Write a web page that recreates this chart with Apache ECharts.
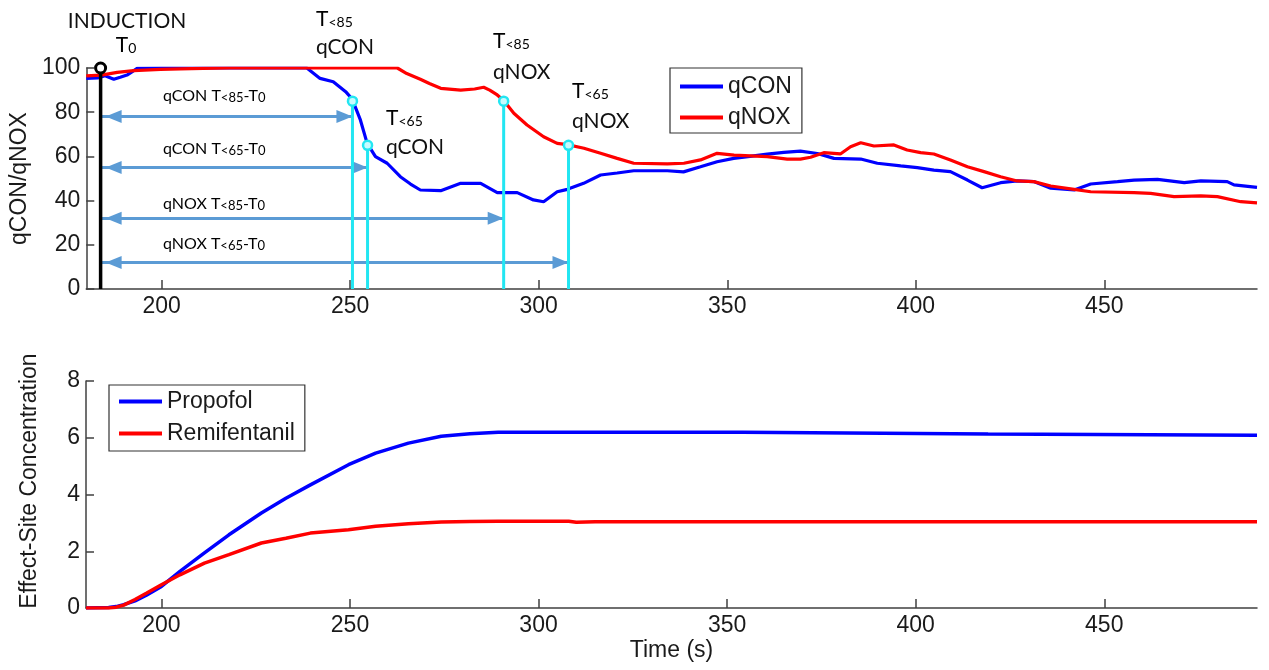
<!DOCTYPE html>
<html>
<head>
<meta charset="utf-8">
<script src="https://cdn.jsdelivr.net/npm/echarts@6/dist/echarts.min.js"></script>
<style>
html,body{margin:0;padding:0;background:#fff;}
#main{width:1269px;height:670px;}
</style>
</head>
<body>
<div id="main"></div>
<script>
// top panel: qCON / qNOX index
var qconTime = [180,183,185,187.3,189,190.8,193.5,200,210,220,230,238.5,242,245.5,248.8,250.5,252.7,254.5,256.7,259.8,
	263.3,266,268.6,274,279.3,284.6,289,294.3,298.6,301.3,304.9,307.6,311.9,316.4,320.8,325.2,334.1,338.4,342.9,347.3,
	351.7,356,360.6,365,369.4,373.9,378.3,385.4,389.8,396,400.4,404.8,409.2,413.7,417.6,422.5,426.9,431.3,435.8,442,
	446.4,453.5,457.9,464.1,471.2,475.6,482.6,484.4,490.5];
var qconValue = [95.3,95.5,96.5,94.9,95.8,96.8,99.8,100,100,100,100,100,95.3,93.8,89.3,86,76.5,65.9,59.9,56.9,
	50.8,47.5,44.8,44.5,47.8,47.8,43.6,43.6,40.3,39.5,44,45.1,47.8,51.6,52.5,53.5,53.5,53,55.3,57.6,
	59.1,60,61,61.8,62.4,61.3,59.1,58.8,56.9,55.7,54.9,53.8,53.1,49.3,45.8,48.1,48.9,48.6,45.6,44.8,
	47.5,48.6,49.3,49.6,48.1,48.9,48.6,47.1,46];
var qnoxTime = [180,184,188.2,192.6,199.7,205,211,218,262.5,265,268.6,271,274,279.3,283,285.4,
	287,289,290.7,293.4,296.9,301.3,304.9,307.6,312,316.4,320.8,325.2,334.1,338.5,342.9,347.3,
	351.8,360.6,365.9,369.4,372.1,375.6,380,382.7,385.4,388.9,394.2,397.7,401.3,404.8,409.2,413.7,
	418.1,422.5,426.9,431.3,435.8,442,446.4,457.9,462.3,468.5,475.6,480,486.2,490.5];
var qnoxValue = [96.4,96.8,98,98.8,99.4,99.6,99.8,100,100,97.5,94.9,93,90.8,90,90.5,91.3,
	90,87.8,85.3,79.5,74.2,68.9,65.9,65.3,63.7,61.4,59.1,56.9,56.6,56.9,58.4,61.4,
	60.6,59.9,58.8,58.8,59.6,61.7,61.1,64.4,66.2,64.7,65.2,62.9,61.7,61.1,58.4,55.3,
	53.1,50.8,48.9,48.6,46.6,45.1,44,43.6,43.3,41.8,42.1,41.8,39.5,39];

// bottom panel: effect-site concentration
var propofolTime = [180,186,188,190,193,196,200,205,211.4,217.9,226.5,233,239.5,249.6,256.8,265.5,274.2,281.8,289.3,354,354.1,419.2,419.3,490.5];
var propofolValue = [0,0.02,0.05,0.12,0.25,0.45,0.76,1.3,1.94,2.58,3.35,3.87,4.34,5.05,5.46,5.81,6.05,6.14,6.19,6.19,6.13,6.13,6.09,6.09];
var remiTime = [180,186,188,190,193,196,200,204.9,211.4,217.9,226.5,233,239.5,249.6,256.8,265.5,274.2,281.8,289.3,308,310,315,490.5];
var remiValue = [0,0,0.03,0.1,0.3,0.52,0.82,1.17,1.58,1.88,2.29,2.46,2.64,2.76,2.88,2.97,3.03,3.05,3.06,3.06,3.02,3.04,3.04];

// events
var inductionTime = 183.8;
var crossTime = [250.6,254.6,290.7,307.9];
var crossLevel = [85,65,85,65];
var arrowLevel = [78,55,32,12];

var timeTicks = [200,250,300,350,400,450];

var arial = 'Liberation Sans, Arial, sans-serif';
var calibri = 'Lato, Open Sans, sans-serif';
var axisColor = '#404040';
var cyan = '#22E6F2';

function zip(a,b){
	var out=[];
	for(var i=0;i<a.length;i++){ out.push([a[i],b[i]]); }
	return out;
}

var myChart = echarts.init(document.getElementById('main'), null, {renderer:'canvas'});

function xAxisFor(idx, withName){
	var ax = {
		type:'value', gridIndex:idx, min:180, max:490.5,
		axisLine:{show:true, onZero:false, lineStyle:{color:axisColor, width:1.5}},
		axisTick:{show:true, inside:true, length:9, customValues:timeTicks, lineStyle:{color:axisColor, width:1.5}},
		axisLabel:{customValues:timeTicks, margin:6, fontSize:23, fontFamily:arial, color:'#1a1a1a'},
		splitLine:{show:false}
	};
	if(withName){
		ax.name='Time (s)';
		ax.nameLocation='middle';
		ax.nameGap=31;
		ax.nameTextStyle={fontSize:23, fontFamily:arial, color:'#1a1a1a'};
	}
	return ax;
}

function yAxisFor(idx, max, step, name, gap, pad){
	return {
		type:'value', gridIndex:idx, min:0, max:max, interval:step,
		name:name, nameLocation:'middle', nameGap:gap,
		nameTextStyle:{fontSize:23, fontFamily:arial, color:'#1a1a1a', padding:pad},
		axisLine:{show:true, lineStyle:{color:axisColor, width:1.5}},
		axisTick:{show:true, inside:true, length:8, lineStyle:{color:axisColor, width:1.5}},
		axisLabel:{margin:6, fontSize:23, fontFamily:arial, color:'#1a1a1a'},
		splitLine:{show:false}
	};
}

var series = [];
series.push({name:'qCON', type:'line', xAxisIndex:0, yAxisIndex:0, data:zip(qconTime,qconValue),
	symbol:'none', lineStyle:{color:'#0000FF', width:3.2}, itemStyle:{color:'#0000FF'}, z:3});
series.push({name:'qNOX', type:'line', xAxisIndex:0, yAxisIndex:0, data:zip(qnoxTime,qnoxValue),
	symbol:'none', lineStyle:{color:'#FF0000', width:3.2}, itemStyle:{color:'#FF0000'}, z:3});

// arrows from induction to each threshold crossing
var arrowData = [];
for(var i=0;i<crossTime.length;i++){
	arrowData.push([
		{coord:[inductionTime, arrowLevel[i]], symbol:'triangle', symbolSize:[13,16], symbolOffset:[0,13]},
		{coord:[crossTime[i], arrowLevel[i]], symbol:'triangle', symbolSize:[13,16], symbolOffset:[0,8]}
	]);
}

// induction marker
series.push({name:'T0', type:'line', xAxisIndex:0, yAxisIndex:0,
	data:[{value:[inductionTime,0], symbol:'none'},{value:[inductionTime,100], symbol:'circle', symbolSize:10}],
	lineStyle:{color:'#000', width:3.5}, itemStyle:{color:'#fff', borderColor:'#000', borderWidth:3}, z:6,
	markLine:{
		silent:true, animation:false,
		label:{show:false},
		lineStyle:{color:'#5B9BD5', width:3, type:'solid'},
		itemStyle:{color:'#5B9BD5'},
		data:arrowData
	}
});

// threshold crossings
for(var j=0;j<crossTime.length;j++){
	series.push({name:'cross'+j, type:'line', xAxisIndex:0, yAxisIndex:0,
		data:[{value:[crossTime[j],0], symbol:'none'},{value:[crossTime[j],crossLevel[j]], symbol:'circle', symbolSize:9}],
		lineStyle:{color:cyan, width:3}, itemStyle:{color:'#c8fbff', borderColor:cyan, borderWidth:2.5}, z:5});
}

series.push({name:'Propofol', type:'line', xAxisIndex:1, yAxisIndex:1, data:zip(propofolTime,propofolValue),
	symbol:'none', lineStyle:{color:'#0000FF', width:3.5}, itemStyle:{color:'#0000FF'}});
series.push({name:'Remifentanil', type:'line', xAxisIndex:1, yAxisIndex:1, data:zip(remiTime,remiValue),
	symbol:'none', lineStyle:{color:'#FF0000', width:3.5}, itemStyle:{color:'#FF0000'}});

function label(txt, x, y, size, align){
	return {type:'text', x:x, y:y, z:50, silent:true,
		style:{text:txt, font:size+'px '+calibri, fill:'#111', align:align||'left', verticalAlign:'middle'}};
}
function subLabel(main, sub, x, y, size, align){
	return {type:'text', x:x, y:y, z:50, silent:true,
		style:{text:'{a|'+main+'}{b|'+sub+'}', align:align||'left', verticalAlign:'middle',
			rich:{
				a:{fontSize:size, fontFamily:calibri, color:'#111', verticalAlign:'bottom', lineHeight:size+2},
				b:{fontSize:Math.round(size*0.68), fontFamily:calibri, color:'#111', verticalAlign:'bottom', lineHeight:size+2}
			}}};
}
function arrowLabel(who, lvl, x, y){
	return {type:'text', x:x, y:y, z:50, silent:true,
		style:{text:'{a|'+who+' T}{b|'+lvl+'}{a|-T}{b|0}', align:'left', verticalAlign:'middle',
			rich:{
				a:{fontSize:16, fontFamily:calibri, color:'#222', verticalAlign:'bottom', lineHeight:18},
				b:{fontSize:13, fontFamily:calibri, color:'#222', verticalAlign:'bottom', lineHeight:18}
			}}};
}

var graphics = [
	label('INDUCTION', 127, 21, 21, 'center'),
	subLabel('T', '0', 126, 44, 21, 'center'),
	subLabel('T', '<85', 316, 18, 21),
	label('qCON', 316, 47, 21),
	subLabel('T', '<65', 386, 117, 21),
	label('qCON', 386, 147, 21),
	subLabel('T', '<85', 493, 40, 21),
	label('qNOX', 493, 72, 21),
	subLabel('T', '<65', 572, 90, 21),
	label('qNOX', 572, 121, 21),
	arrowLabel('qCON', '<85', 163, 95),
	arrowLabel('qCON', '<65', 163, 148),
	arrowLabel('qNOX', '<85', 163, 203),
	arrowLabel('qNOX', '<65', 163, 243)
];

var legendBase = {orient:'vertical', icon:'rect', itemWidth:43, itemHeight:4,
	borderColor:'#333', borderWidth:1.2,
	textStyle:{fontSize:23, fontFamily:arial, color:'#1a1a1a'}};

var option = {
	animation:false,
	backgroundColor:'#fff',
	grid:[
		{left:86, right:12, top:68, height:221},
		{left:86, right:12, top:381, height:227}
	],
	xAxis:[xAxisFor(0,false), xAxisFor(1,true)],
	yAxis:[
		yAxisFor(0, 100, 20, 'qCON/qNOX', 49, [0,0,0,0]),
		yAxisFor(1, 8, 2, 'Effect-Site Concentration', 45, [0,0,0,27])
	],
	legend:[
		echarts.util.merge({data:['qCON','qNOX'], left:670, top:68, padding:[7,10,4,10], itemGap:8}, legendBase),
		echarts.util.merge({data:['Propofol','Remifentanil'], left:109, top:385, padding:[5,10,6,10], itemGap:9}, legendBase)
	],
	graphic:graphics,
	series:series
};

myChart.setOption(option);
</script>
</body>
</html>
